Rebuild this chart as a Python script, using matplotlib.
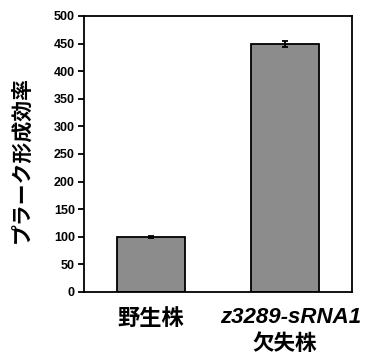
import matplotlib
matplotlib.use('Agg')
import matplotlib.pyplot as plt
import matplotlib.transforms as mtransforms

# data
strains = ['野生株', 'z3289-sRNA1']
strain_suffix = '欠失株'
efficiency = [100, 449]
errors = [2, 5]
y_ticks = [0, 50, 100, 150, 200, 250, 300, 350, 400, 450, 500]

plt.rcParams['font.family'] = ['Liberation Sans', 'Noto Sans CJK JP', 'DejaVu Sans']

fig = plt.figure(figsize=(3.66, 3.56), dpi=100)
ax = fig.add_axes([84 / 366, 1 - 292 / 356, 268 / 366, 276 / 356])

x = list(range(len(strains)))
ax.bar(x, efficiency, width=0.51, color='#8c8c8c', edgecolor='black', linewidth=1.3,
       yerr=errors, error_kw=dict(ecolor='black', elinewidth=1.3, capsize=2.5, capthick=1.3))

ax.set_xlim(-0.5, 1.5)
ax.set_ylim(0, 500)
ax.set_yticks(y_ticks)
ax.set_yticklabels([str(t) for t in y_ticks], fontweight='bold', fontsize=9)
ax.tick_params(axis='y', direction='out', length=4.5, width=1.3, pad=2)
ax.set_xticks([])
for s in ax.spines.values():
    s.set_linewidth(1.3)

trans = mtransforms.blended_transform_factory(ax.transData, ax.transAxes)
shift = mtransforms.ScaledTranslation(6 / 100, 0, fig.dpi_scale_trans)
ax.text(0, -0.055, strains[0], transform=trans, ha='center', va='top',
        fontsize=16, fontweight='bold', fontfamily='Noto Sans CJK JP')
ax.text(1, -0.055, strains[1], transform=trans + shift, ha='center', va='top',
        fontsize=16, fontweight='bold', fontstyle='italic', fontfamily='Liberation Sans')
ax.text(1, -0.148, strain_suffix, transform=trans, ha='center', va='top',
        fontsize=15.5, fontweight='bold', fontfamily='Noto Sans CJK JP')

ax.set_ylabel('プラーク形成効率', fontsize=15, fontweight='bold',
              fontfamily='Noto Sans CJK JP')
ax.yaxis.set_label_coords(-0.195, 0.48)

fig.savefig('out.png', dpi=100)
